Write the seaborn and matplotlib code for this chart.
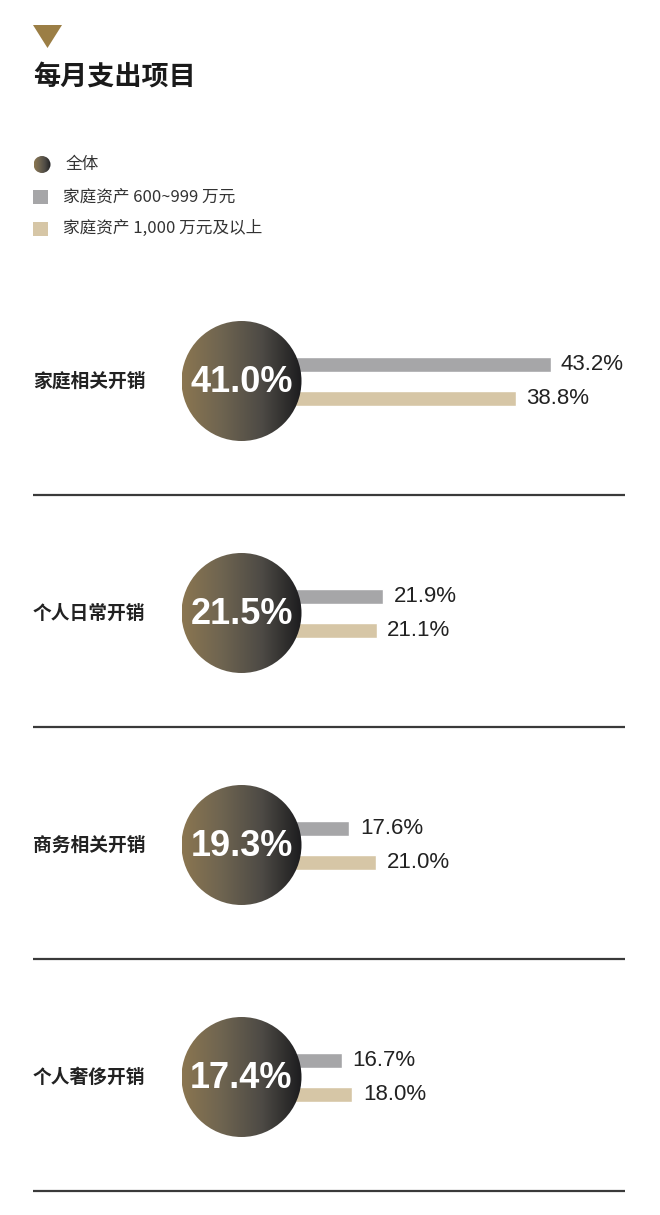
import numpy as np
import pandas as pd
import matplotlib
matplotlib.use("Agg")
import matplotlib.pyplot as plt
from matplotlib.colors import LinearSegmentedColormap
from matplotlib.patches import Circle, Rectangle, Polygon
import seaborn as sns

# ---- data ----
categories = ["家庭相关开销", "个人日常开销", "商务相关开销", "个人奢侈开销"]
overall = [41.0, 21.5, 19.3, 17.4]
asset_600_999 = [43.2, 21.9, 17.6, 16.7]
asset_1000_plus = [38.8, 21.1, 21.0, 18.0]
series_names = ["全体", "家庭资产 600~999 万元", "家庭资产 1,000 万元及以上"]
title = "每月支出项目"

# ---- style ----
sns.set_style("white")
plt.rcParams["font.family"] = ["Noto Sans CJK SC", "DejaVu Sans"]

W, H = 660, 1215
fig = plt.figure(figsize=(W / 100, H / 100), dpi=100)
fig.patch.set_facecolor("white")

GRAY = "#a6a6a8"
TAN = "#d6c6a6"
TEXT = "#222222"
grad_cmap = LinearSegmentedColormap.from_list(
    "g", ["#8b7651", "#6e6450", "#4d4a45", "#1c1c1e"])

# layout (pixels)
sec_y0, sec_dy = 381, 232
circ_x, circ_r = 241.5, 60
bar_x0 = 211          # pixel where 0% lies
px_per_pct = 7.86
row_gap = 34          # distance between the two bars in one section
bar_h = 15

# ---- bar axes, one per section ----
for i, cat in enumerate(categories):
    cy = sec_y0 + sec_dy * i
    df = pd.DataFrame({
        "series": series_names[1:],
        "value": [asset_600_999[i], asset_1000_plus[i]],
    })
    left = bar_x0 / W
    width = (W - bar_x0) / W
    ax_h = 2 * row_gap
    bottom = (H - (cy + row_gap)) / H
    bax = fig.add_axes([left, bottom, width, ax_h / H], zorder=1)
    sns.barplot(data=df, x="value", y="series", hue="series",
                palette=[GRAY, TAN], width=bar_h / row_gap,
                orient="h", legend=False, ax=bax, saturation=1)
    bax.set_xlim(0, (W - bar_x0) / px_per_pct)
    bax.set_ylim(1.5, -0.5)
    for cont in bax.containers:
        bax.bar_label(cont, fmt="%.1f%%", padding=7.5, fontsize=16,
                      color=TEXT, family=["Liberation Sans", "DejaVu Sans"])
    bax.set_axis_off()
    bax.patch.set_alpha(0)

# ---- overlay axes in pixel coordinates ----
ax = fig.add_axes([0, 0, 1, 1], zorder=3)
ax.patch.set_alpha(0)


def grad_circle(cx, cy, r):
    grad = np.linspace(0, 1, 256).reshape(1, -1)
    im = ax.imshow(grad, cmap=grad_cmap, extent=(cx - r, cx + r, cy + r, cy - r),
                   aspect="auto", interpolation="bicubic", zorder=2)
    c = Circle((cx, cy), r, transform=ax.transData, facecolor="none",
               edgecolor="none")
    ax.add_patch(c)
    im.set_clip_path(c)


# triangle marker
ax.add_patch(Polygon([[33, 25], [62, 25], [47.5, 48]], closed=True,
                     facecolor="#9b7e45", edgecolor="none"))
ax.text(33, 77, title, fontsize=19.5, fontweight="heavy", color="#1a1a1a",
        ha="left", va="center")

# legend
grad_circle(42, 164.5, 8.5)
ax.text(66, 164.5, series_names[0], fontsize=12, color="#333333",
        ha="left", va="center")
for j, (yy, col) in enumerate([(197, GRAY), (228.5, TAN)]):
    ax.add_patch(Rectangle((33, yy - 7), 14.5, 14, facecolor=col,
                           edgecolor="none"))
    ax.text(63, yy, series_names[j + 1], fontsize=12, color="#333333",
            ha="left", va="center")

for i, cat in enumerate(categories):
    cy = sec_y0 + sec_dy * i
    ax.text(33, cy, cat, fontsize=13.5, fontweight="bold", color=TEXT,
            ha="left", va="center")
    grad_circle(circ_x, cy, circ_r)
    ax.text(circ_x, cy + 1.5, f"{overall[i]:.1f}%", fontsize=26,
            fontweight="bold", color="white", ha="center", va="center",
            family=["Liberation Sans", "DejaVu Sans"],
            zorder=5)
    ly = cy + 114
    ax.plot([33, 625], [ly, ly], color="#3a3a3a", lw=1.6,
            solid_capstyle="butt")

ax.set_xlim(0, W)
ax.set_ylim(H, 0)
ax.set_axis_off()

fig.savefig("out.png", dpi=100, facecolor="white")
